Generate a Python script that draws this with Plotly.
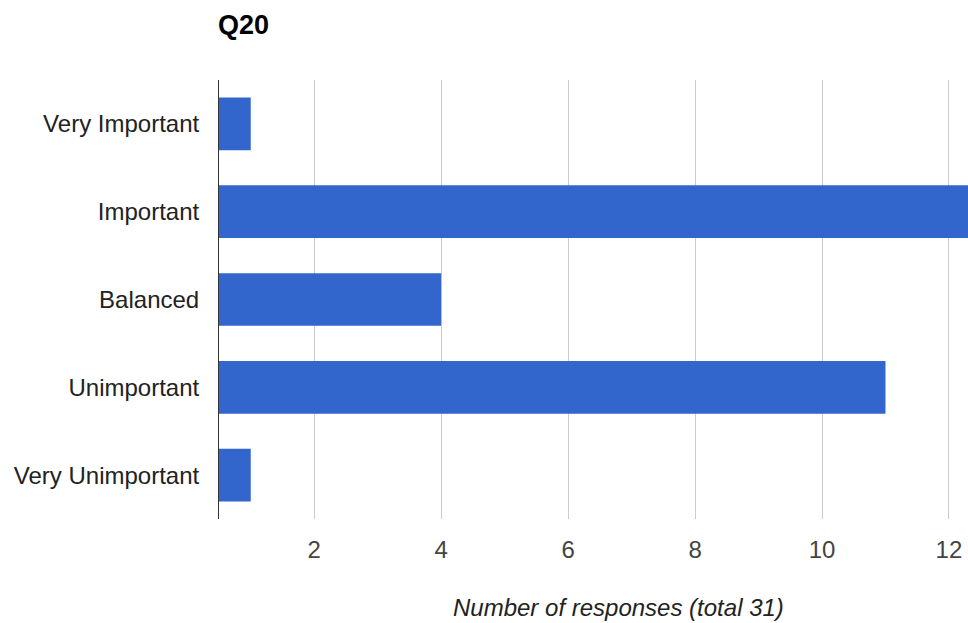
import plotly.graph_objects as go

categories = ["Very Important", "Important", "Balanced", "Unimportant", "Very Unimportant"]
values = [1, 14, 4, 11, 1]
tick_vals = [2, 4, 6, 8, 10, 12]
axis_start = 0.5

fig = go.Figure(go.Bar(
    y=categories, x=[v - axis_start for v in values], base=axis_start, orientation="h",
    marker=dict(color="#3366cc", line=dict(width=0)),
    width=0.6,
))

fig.update_layout(
    width=968, height=623,
    margin=dict(l=219, r=0, t=80, b=104),
    plot_bgcolor="white", paper_bgcolor="white",
    font=dict(family="Liberation Sans, Arial, sans-serif", size=24, color="#444444"),
    showlegend=False,
    title=dict(text="<b>Q20</b>", x=218/968, xanchor="left", y=1-25/623, yanchor="middle",
               font=dict(size=27, color="#000000")),
)
fig.update_xaxes(range=[axis_start, 12.3], tickvals=tick_vals, showgrid=True, gridcolor="#cccccc",
                 gridwidth=1, zeroline=False, showline=False, ticks="",
                 tickfont=dict(size=24, color="#444444"), ticklabelstandoff=14)
fig.update_yaxes(autorange="reversed", showline=True, linecolor="#333333", linewidth=1,
                 showgrid=False, ticks="", ticklabelstandoff=14,
                 tickfont=dict(size=24, color="#222222"))
fig.add_annotation(text="<i>Number of responses (total 31)</i>", xref="paper", yref="paper",
                   x=(618-219)/749, y=-(607-519)/439, xanchor="center", yanchor="middle",
                   showarrow=False, font=dict(size=24, color="#222222"))
fig.write_html("out.html")
